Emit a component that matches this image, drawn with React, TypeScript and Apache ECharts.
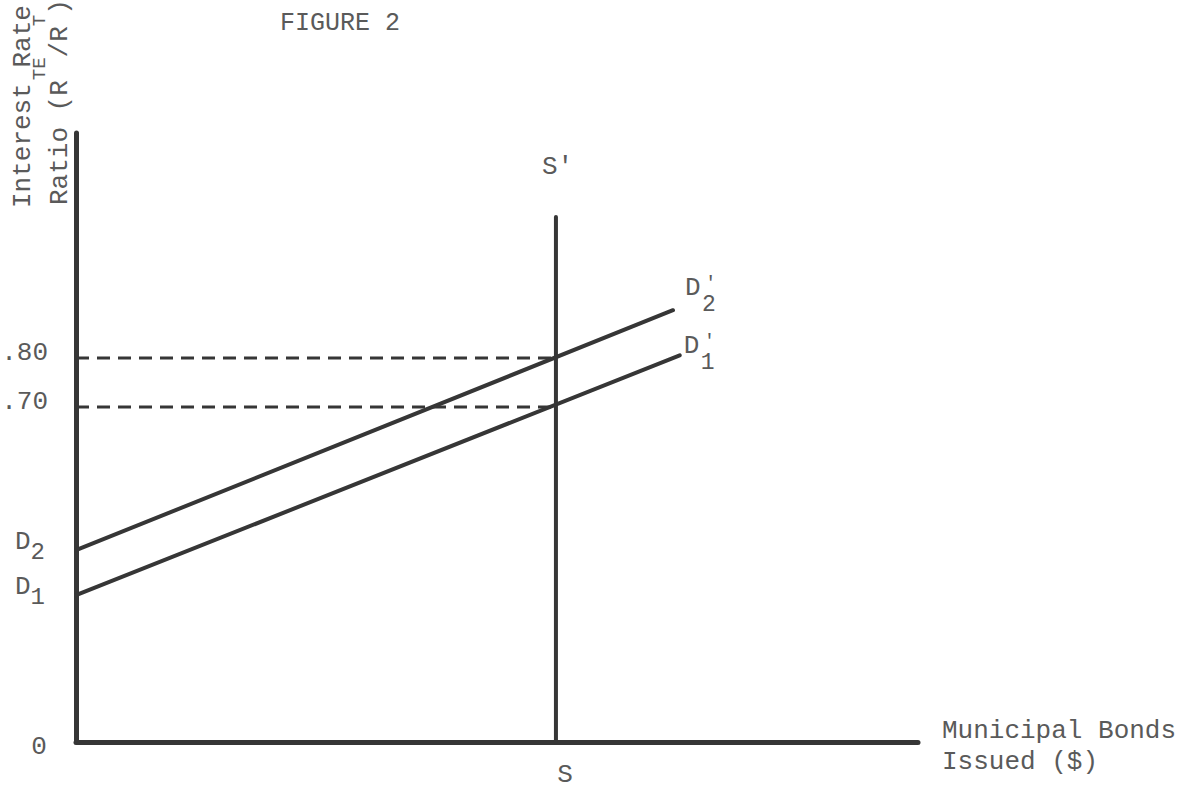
import React, { useEffect, useRef } from 'react';
import * as echarts from 'echarts';

// Abstract axis extents (schematic diagram, no numeric scale)
const bondsRange = [0, 100];
const ratioRange = [0, 100];

// Demand curves: endpoints [quantity, ratio]
const demandD1X = [0, 71.7];
const demandD1Y = [24.1, 63.5];
const demandD2X = [0, 70.9];
const demandD2Y = [31.5, 70.9];

// Fixed supply S - S'
const supplyX = [57, 57];
const supplyY = [0, 86.2];

// Equilibrium ratio levels and their tick labels
const ratioLevels = [63.05, 55.0];
const ratioLabels = ['.80', '.70'];

const FONT = '"Liberation Mono", "DejaVu Sans Mono", monospace';
const INK = '#363636';
const TXT = '#5a5a5a';
const FS = 26;

function pts(xs: number[], ys: number[]) {
  return xs.map((x, i) => [x, ys[i]]);
}

export default function App() {
  const ref = useRef<HTMLDivElement>(null);
  useEffect(() => {
    document.body.style.margin = '0';
    const chart = echarts.init(ref.current!, null, { renderer: 'svg' });
    const lineSeries = (name: string, data: number[][], dashed = false) => ({
      name,
      type: 'line',
      data,
      symbol: 'none',
      silent: true,
      lineStyle: {
        color: INK,
        width: dashed ? 3 : 4,
        type: dashed ? [13, 8] : 'solid',
        cap: dashed ? 'butt' : 'round',
      },
    });
    chart.setOption({
      animation: false,
      backgroundColor: '#ffffff',
      title: {
        text: 'FIGURE 2',
        left: 335,
        top: 6,
        textAlign: 'center',
        textStyle: { fontFamily: FONT, fontWeight: 'normal', fontSize: 25, color: TXT },
      },
      grid: { left: 76, top: 133, right: 270, bottom: 47 },
      xAxis: {
        type: 'value',
        min: bondsRange[0],
        max: bondsRange[1],
        axisLine: { show: true, lineStyle: { color: INK, width: 5, cap: 'round' } },
        axisTick: { show: false },
        axisLabel: { show: false },
        splitLine: { show: false },
      },
      yAxis: {
        type: 'value',
        min: ratioRange[0],
        max: ratioRange[1],
        axisLine: { show: true, lineStyle: { color: INK, width: 5, cap: 'round' } },
        axisTick: { show: false },
        axisLabel: { show: false },
        splitLine: { show: false },
      },
      series: [
        lineSeries('D2', pts(demandD2X, demandD2Y)),
        lineSeries('D1', pts(demandD1X, demandD1Y)),
        lineSeries('S', pts(supplyX, supplyY)),
        ...ratioLevels.map((lv, i) =>
          lineSeries('level' + ratioLabels[i], [[bondsRange[0], lv], [supplyX[0], lv]], true)
        ),
      ],
    });

    const px = (p: number[]) => chart.convertToPixel({ gridIndex: 0 }, p) as number[];
    const origin = px([bondsRange[0], ratioRange[0]]);
    const yTop = px([bondsRange[0], ratioRange[1]]);
    const xEnd = px([bondsRange[1], ratioRange[0]]);
    const d2Start = px([demandD2X[0], demandD2Y[0]]);
    const d1Start = px([demandD1X[0], demandD1Y[0]]);
    const d2End = px([demandD2X[1], demandD2Y[1]]);
    const d1End = px([demandD1X[1], demandD1Y[1]]);
    const sTop = px([supplyX[1], supplyY[1]]);
    const sBot = px([supplyX[0], supplyY[0]]);

    const base = { fontFamily: FONT, fontSize: FS, fill: TXT };
    const t = (text: string, x: number, y: number, extra: any = {}) => ({
      type: 'text',
      x,
      y,
      silent: true,
      style: { ...base, text, align: 'left', verticalAlign: 'middle', ...extra },
    });
    const subRich = {
      m: { fontFamily: FONT, fontSize: FS, color: TXT, verticalAlign: 'top' },
      sub: { fontFamily: FONT, fontSize: FS - 2, color: TXT, verticalAlign: 'bottom', padding: [11, 0, 0, 0] },
    };

    const graphic: any[] = [];
    // level tick labels
    ratioLevels.forEach((lv, i) => {
      const p = px([bondsRange[0], lv]);
      graphic.push(t(ratioLabels[i], p[0] - 28, p[1] - 5, { align: 'right' }));
    });
    graphic.push(t('0', origin[0] - 37, origin[1] + 5, { align: 'center' }));
    // D2, D1 intercept labels with subscripts
    [[d2Start, '2'], [d1Start, '1']].forEach(([p, s]: any) => {
      graphic.push({
        type: 'text',
        x: p[0] - 61,
        y: p[1] - 21,
        silent: true,
        style: { text: `{m|D}{sub|${s}}`, rich: subRich, align: 'left', verticalAlign: 'top', fontFamily: FONT, fontSize: FS, fill: TXT },
      });
    });
    // D'2, D'1 end labels (prime stacked over subscript)
    const primeLabel = (end: number[], dx: number, dy: number, s: string) => {
      const x0 = end[0] + dx;
      const yc = end[1] + dy;
      graphic.push(t('D', x0, yc));
      graphic.push(t("'", x0 + 20, yc - 5, { fontSize: 19 }));
      graphic.push(t(s, x0 + 17, yc + 17, { fontSize: FS - 3 }));
    };
    primeLabel(d2End, 12, -22, '2');
    primeLabel(d1End, 4, -9, '1');
    // supply labels
    graphic.push(t("S'", sTop[0] - 14, sTop[1] - 50));
    graphic.push(t('S', sBot[0] + 9, sBot[1] + 33, { align: 'center', lineHeight: 22 }));
    // x axis title
    graphic.push(t('Municipal Bonds\nIssued ($)', xEnd[0] + 24, xEnd[1] - 27, { verticalAlign: 'top', lineHeight: 31 }));
    // y axis title (rotated)
    graphic.push({
      type: 'text',
      x: 10,
      y: yTop[1] + 75,
      rotation: Math.PI / 2,
      silent: true,
      style: { ...base, text: 'Interest Rate', align: 'left', verticalAlign: 'top', lineHeight: 26 },
    });
    graphic.push({
      type: 'text',
      x: 30,
      y: yTop[1] + 72,
      rotation: Math.PI / 2,
      silent: true,
      style: {
        ...base,
        text: '{m|Ratio (R}{sup|TE}{m|/R}{sup|T}{m|)}',
        align: 'left',
        verticalAlign: 'top',
        rich: {
          m: { fontFamily: FONT, fontSize: FS, color: TXT, verticalAlign: 'bottom' },
          sup: { fontFamily: FONT, fontSize: 19, color: TXT, verticalAlign: 'top', padding: [0, 0, 24, 0] },
        },
      },
    });
    chart.setOption({ graphic });

    return () => chart.dispose();
  }, []);
  return <div ref={ref} style={{ position: 'absolute', left: 0, top: 0, width: 1188, height: 789, background: '#fff' }} />;
}
